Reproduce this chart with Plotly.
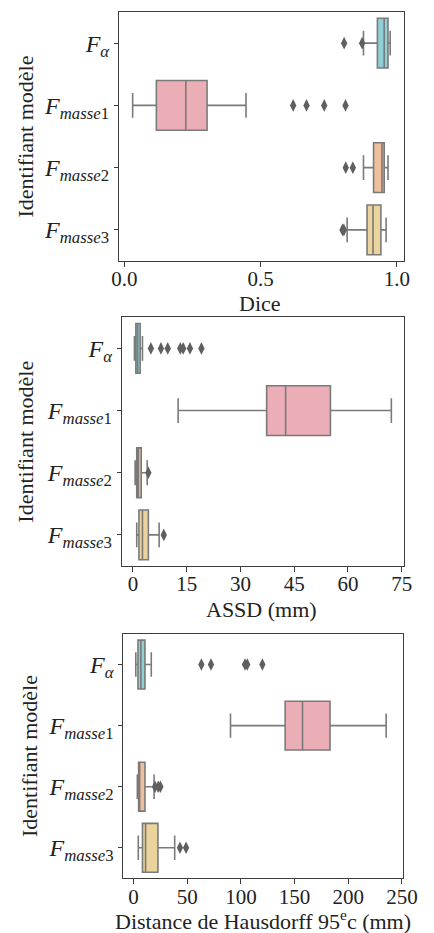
import plotly.graph_objects as go

# ---------------- data ----------------
categories = ["F_alpha", "F_masse1", "F_masse2", "F_masse3"]
category_labels = [
    "<i>F</i><sub><i>α</i></sub>",
    "<i>F</i><sub><i>masse</i>1</sub>",
    "<i>F</i><sub><i>masse</i>2</sub>",
    "<i>F</i><sub><i>masse</i>3</sub>",
]
colors = ["#8fcfd6", "#ebadb6", "#efbf9b", "#ead49b"]

# Dice
dice_low = [0.877, 0.030, 0.877, 0.817]
dice_q1 = [0.928, 0.117, 0.914, 0.890]
dice_median = [0.953, 0.225, 0.945, 0.912]
dice_q3 = [0.967, 0.303, 0.953, 0.941]
dice_high = [0.975, 0.446, 0.967, 0.960]
dice_outliers = [[0.806, 0.872], [0.619, 0.668, 0.733, 0.811], [0.812, 0.838], [0.800, 0.805]]

# ASSD (mm)
assd_low = [0.4, 12.6, 0.6, 1.05]
assd_q1 = [0.8, 37.3, 1.05, 1.67]
assd_median = [1.3, 42.6, 1.5, 2.65]
assd_q3 = [2.0, 55.1, 2.3, 4.3]
assd_high = [2.65, 72.1, 3.97, 7.3]
assd_outliers = [[5.0, 7.8, 9.7, 13.2, 14.0, 15.9, 19.1], [], [4.3], [8.6]]

# Hausdorff 95 (mm)
hd_low = [2.1, 90.3, 3.5, 4.4]
hd_q1 = [4.1, 141.2, 4.7, 8.3]
hd_median = [6.8, 157.4, 5.3, 11.2]
hd_q3 = [10.6, 183.0, 10.6, 22.7]
hd_high = [16.5, 235.3, 19.1, 38.3]
hd_outliers = [[63.2, 72.1, 103.8, 105.9, 120.0], [], [20.0, 23.0, 25.0], [43.2, 48.9]]

dice_ticks = [0.0, 0.5, 1.0]
dice_ticktext = ["0.0", "0.5", "1.0"]
assd_ticks = [0, 15, 30, 45, 60, 75]
hd_ticks = [0, 50, 100, 150, 200, 250]

# ---------------- figure ----------------
W, H = 434, 933
FONT = "Liberation Serif, DejaVu Serif, serif"
EDGE = "#7a7a7a"
FRAME = "#3d3d3d"


def fx(px):
    return px / W


def fy(py):
    return 1 - py / H


fig = go.Figure()

panels = [
    dict(low=dice_low, q1=dice_q1, med=dice_median, q3=dice_q3, high=dice_high, out=dice_outliers,
         xa="x", ya="y", px=(118, 418), py=(12, 261), rng=[-0.02, 1.025],
         ticks=dice_ticks, ticktext=dice_ticktext, title="Dice", tx=267, ty=304, ylx=20),
    dict(low=assd_low, q1=assd_q1, med=assd_median, q3=assd_q3, high=assd_high, out=assd_outliers,
         xa="x2", ya="y2", px=(121, 417.7), py=(317.3, 566), rng=[-3.1, 75.5],
         ticks=assd_ticks, ticktext=[str(t) for t in assd_ticks], title="ASSD (mm)", tx=268, ty=609, ylx=20),
    dict(low=hd_low, q1=hd_q1, med=hd_median, q3=hd_q3, high=hd_high, out=hd_outliers,
         xa="x3", ya="y3", px=(122.7, 416.7), py=(634, 878.3), rng=[-9.4, 250.6],
         ticks=hd_ticks, ticktext=[str(t) for t in hd_ticks],
         title="Distance de Hausdorff 95<sup>e</sup>c (mm)", tx=270, ty=920, ylx=23),
]

annotations = []
layout_axes = {}
for i, p in enumerate(panels):
    for j, cat in enumerate(categories):
        fig.add_trace(go.Box(
            y=[cat], q1=[p["q1"][j]], median=[p["med"][j]], q3=[p["q3"][j]],
            lowerfence=[p["low"][j]], upperfence=[p["high"][j]],
            orientation="h", width=0.8, whiskerwidth=0.5,
            fillcolor=colors[j], line=dict(color=EDGE, width=1.6),
            boxpoints=False, xaxis=p["xa"], yaxis=p["ya"], showlegend=False,
        ))
        if p["out"][j]:
            fig.add_trace(go.Scatter(
                x=p["out"][j], y=[cat] * len(p["out"][j]), mode="markers",
                marker=dict(symbol="diamond-tall", size=9, color="#5f5f5f"),
                xaxis=p["xa"], yaxis=p["ya"], showlegend=False,
            ))
    suffix = "" if i == 0 else str(i + 1)
    xd = [fx(p["px"][0]), fx(p["px"][1])]
    yd = [fy(p["py"][1]), fy(p["py"][0])]
    layout_axes["xaxis" + suffix] = dict(
        domain=xd, anchor="y" + suffix, range=p["rng"], tickvals=p["ticks"], ticktext=p["ticktext"],
        showgrid=False, zeroline=False, showline=True, mirror=True, linecolor=FRAME, linewidth=1.2,
        ticks="outside", ticklen=5, tickcolor=FRAME, ticklabelstandoff=-6,
        tickfont=dict(family=FONT, size=21, color="#222"),
    )
    layout_axes["yaxis" + suffix] = dict(
        domain=yd, anchor="x" + suffix, type="category", categoryorder="array",
        categoryarray=categories, tickvals=categories, ticktext=category_labels,
        range=[3.5, -0.5], showgrid=False, zeroline=False, showline=True, mirror=True,
        linecolor=FRAME, linewidth=1.2, ticks="outside", ticklen=4, tickcolor=FRAME,
        tickfont=dict(family=FONT, size=24, color="#222"),
    )
    annotations.append(dict(
        text=p["title"], x=fx(p["tx"]), y=fy(p["ty"]), xref="paper", yref="paper",
        showarrow=False, font=dict(family=FONT, size=22, color="#222"), xanchor="center", yanchor="middle",
    ))
    annotations.append(dict(
        text="Identifiant modèle", x=fx(p["ylx"]), y=fy((p["py"][0] + p["py"][1]) / 2),
        xref="paper", yref="paper", showarrow=False, textangle=-90,
        font=dict(family=FONT, size=22, color="#222"), xanchor="center", yanchor="middle",
    ))

fig.update_layout(
    width=W, height=H, margin=dict(l=0, r=0, t=0, b=0),
    paper_bgcolor="white", plot_bgcolor="white", showlegend=False,
    boxmode="overlay", annotations=annotations, **layout_axes,
)

fig.write_html("out.html", config={"displayModeBar": False},
               post_script="document.body.style.margin='0';")
